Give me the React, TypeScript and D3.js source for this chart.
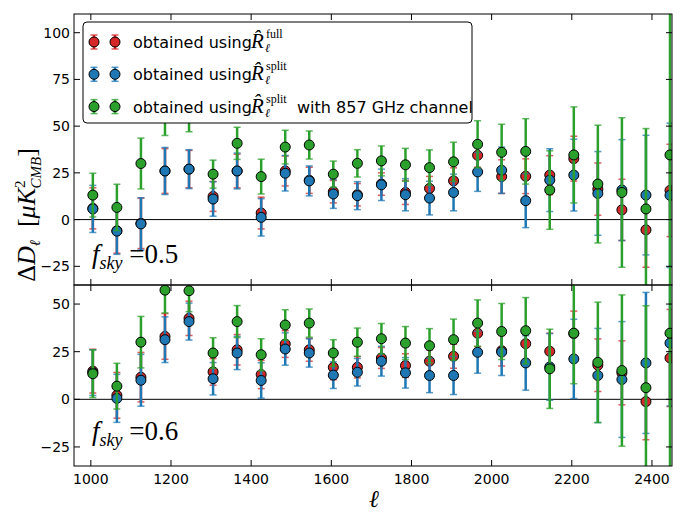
import * as d3 from "d3";

const W = 683;
const H = 513;
const LEFT = 74;
const RIGHT = 672;

const ELL = [
  1005, 1065, 1125, 1185, 1245, 1305, 1365, 1425, 1485, 1545, 1605, 1665, 1725,
  1785, 1845, 1905, 1965, 2025, 2085, 2145, 2205, 2265, 2325, 2385, 2445,
];

// f_sky = 0.5
const TOP_FULL = [6, -6, -2, 26, 27, 12.4, 26, 3.5, 26, 21, 14.9, 13.3, 19, 14.5, 16.7, 20.7, 34.4, 23, 23.2, 23.8, 32.6, 16.3, 5.2, -5.5, 15.6];
const TOP_FULL_ERR = [11, 12, 13.5, 12, 10, 8, 9, 8.5, 8, 7, 6, 6, 6, 6.4, 6.4, 7, 6.4, 9, 9.3, 10.4, 12, 14, 16.4, 20, 24.7];
const TOP_SPLIT = [5.7, -6.2, -2.3, 26, 27, 11, 26, 1.2, 24.8, 20.7, 13.7, 12.8, 18.6, 13.3, 11.5, 14.5, 25.5, 26.4, 10.1, 21.1, 23.8, 14, 15.8, 13.1, 13];
const TOP_SPLIT_ERR = [12.6, 12.4, 14, 12.6, 10.4, 9.2, 9.6, 10, 9.5, 8, 7.7, 7.5, 8.4, 8.6, 9, 9.8, 10.4, 12.4, 14.4, 16.8, 19.2, 22.4, 27, 32, 38.6];
const TOP_857 = [13.1, 6.5, 30, 58, 58, 24.3, 40.8, 23, 38.8, 39.9, 24.3, 30.1, 31.4, 29.3, 27.8, 30.9, 40.3, 36, 36.5, 15.8, 34.6, 19, 14.5, 5.7, 34.6];
const TOP_857_ERR = [11.7, 12.4, 13.6, 13, 11, 7.5, 8.6, 9.3, 9, 7.5, 7, 7.3, 8, 8.8, 9.5, 10.5, 12.6, 15, 17.5, 21, 25.7, 31.5, 40, 43, 90];

// f_sky = 0.6
const BOT_FULL = [14.8, 2.1, 11.6, 33, 42.5, 14.4, 26, 13, 29, 26, 16.8, 16.8, 21.7, 17.7, 20, 22.6, 34.7, 25.5, 29.2, 25.2, 34.5, 17.9, 13.9, -1.2, 21.7];
const BOT_FULL_ERR = [11.5, 12, 13, 12, 9, 7, 8, 7.4, 7, 6, 6.5, 5.6, 5.5, 6.2, 6, 6.3, 7, 8, 8.3, 9.5, 11.8, 13.8, 16.8, 20, 25.5];
const BOT_SPLIT = [14, 0.5, 10, 31.3, 40.8, 10.8, 24.3, 9.9, 26.4, 24.3, 12.7, 14.2, 20, 13.9, 12.5, 12.5, 24.7, 24.8, 19.1, 17, 21.2, 12.5, 10.4, 19.1, 29.5];
const BOT_SPLIT_ERR = [12, 12.6, 13.6, 12, 9.7, 8.5, 8.7, 9.3, 8.5, 7.4, 7, 7.2, 7.8, 8, 9, 10, 11, 12.3, 14.3, 17.5, 20.8, 24.7, 30.4, 37, 33];
const BOT_857 = [13.4, 6.9, 30, 57.3, 57, 24.3, 40.8, 23.4, 39, 40, 24.3, 30, 31.8, 29.5, 28.1, 31.3, 40, 35.6, 36, 16, 34.7, 19.4, 15.1, 6.1, 34.7];
const BOT_857_ERR = [12.5, 12, 13.5, 12, 11, 8, 8.4, 8.4, 8, 7.4, 7, 7.4, 8, 8.7, 9, 10.8, 12.2, 14.7, 17.4, 20.8, 26.5, 31.6, 39.7, 43, 75];

const X_TICKS = [1000, 1200, 1400, 1600, 1800, 2000, 2200, 2400];
const TOP_Y_TICKS = [-25, 0, 25, 50, 75, 100];
const BOT_Y_TICKS = [-25, 0, 25, 50];

const RED = "#d62728";
const BLUE = "#1f77b4";
const GREEN = "#2ca02c";

const SANS = "DejaVu Sans, sans-serif";
const SERIF = "Liberation Serif, serif";

const x = d3.scaleLinear().domain([958, 2450]).range([LEFT, RIGHT]);
const fmt = d3.format("d");

type Series = { vals: number[]; errs: number[]; color: string };

const ErrPoint = ({ cx, cy, y0, y1, color }) => (
  <g>
    <line x1={cx} x2={cx} y1={y0} y2={y1} stroke={color} strokeWidth={2.5} />
    <line x1={cx - 3.5} x2={cx + 3.5} y1={y0} y2={y0} stroke={color} strokeWidth={1.5} opacity={0.75} />
    <line x1={cx - 3.5} x2={cx + 3.5} y1={y1} y2={y1} stroke={color} strokeWidth={1.5} opacity={0.75} />
    <circle cx={cx} cy={cy} r={5} fill={color} stroke="#000" strokeWidth={1} />
  </g>
);

const Panel = ({ id, top, bottom, domain, ticks, series, fsky, showX }) => {
  const y = d3.scaleLinear().domain(domain).range([bottom, top]);
  const tl = 6;
  return (
    <g>
      <defs>
        <clipPath id={id}>
          <rect x={LEFT} y={top} width={RIGHT - LEFT} height={bottom - top} />
        </clipPath>
      </defs>
      <g clipPath={`url(#${id})`}>
        <line x1={LEFT} x2={RIGHT} y1={y(0)} y2={y(0)} stroke="#000" strokeWidth={1} />
        {series.map((s: Series, si: number) => (
          <g key={si}>
            {ELL.map((l, i) => (
              <ErrPoint
                key={i}
                cx={x(l)}
                cy={y(s.vals[i])}
                y0={y(s.vals[i] - s.errs[i])}
                y1={y(s.vals[i] + s.errs[i])}
                color={s.color}
              />
            ))}
          </g>
        ))}
      </g>
      <rect x={LEFT} y={top} width={RIGHT - LEFT} height={bottom - top} fill="none" stroke="#000" strokeWidth={1} />
      {ticks.map((t) => (
        <g key={t}>
          <line x1={LEFT} x2={LEFT + tl} y1={y(t)} y2={y(t)} stroke="#000" />
          <line x1={RIGHT - tl} x2={RIGHT} y1={y(t)} y2={y(t)} stroke="#000" />
          <text x={LEFT - 4} y={y(t)} dy="0.36em" textAnchor="end" fontFamily={SANS} fontSize={14}>
            {fmt(t)}
          </text>
        </g>
      ))}
      {X_TICKS.map((t) => (
        <g key={t}>
          <line x1={x(t)} x2={x(t)} y1={top} y2={top + tl} stroke="#000" />
          <line x1={x(t)} x2={x(t)} y1={bottom} y2={bottom - tl} stroke="#000" />
          {showX && (
            <text x={x(t)} y={bottom + 18} textAnchor="middle" fontFamily={SANS} fontSize={14}>
              {t}
            </text>
          )}
        </g>
      ))}
      <text x={LEFT + 18} y={bottom - (showX ? 26 : 22)} fontFamily={SERIF} fontSize={27}>
        <tspan fontStyle="italic">f</tspan>
        <tspan fontStyle="italic" fontSize={18} dy={6}>sky</tspan>
        <tspan dy={-6}>{` =${fsky}`}</tspan>
      </text>
    </g>
  );
};

const LEGEND = [
  { color: RED, sup: "full", extra: "" },
  { color: BLUE, sup: "split", extra: "" },
  { color: GREEN, sup: "split", extra: " with 857 GHz channel" },
];

const Legend = () => {
  const x0 = 83;
  const y0 = 22;
  const rowH = 32.3;
  return (
    <g>
      <rect x={x0} y={y0} width={389} height={101} rx={4} fill="#fff" stroke="#000" strokeWidth={1} />
      {LEGEND.map((d, i) => {
        const cy = y0 + 20 + i * rowH;
        return (
          <g key={i}>
            {[94, 115].map((cx) => (
              <ErrPoint key={cx} cx={cx} cy={cy} y0={cy + 7} y1={cy - 7} color={d.color} />
            ))}
            <text x={133} y={cy + 6} fontFamily={SANS} fontSize={16}>
              obtained using
            </text>
            <text x={251} y={cy + 6} fontFamily={SERIF} fontSize={21} fontStyle="italic">
              R̂
            </text>
            <text x={266} y={cy - 4} fontFamily={SERIF} fontSize={12}>
              {d.sup}
            </text>
            <text x={265} y={cy + 10} fontFamily={SERIF} fontSize={12} fontStyle="italic">
              ℓ
            </text>
            {d.extra && (
              <text x={297} y={cy + 6} fontFamily={SANS} fontSize={16}>
                {d.extra}
              </text>
            )}
          </g>
        );
      })}
    </g>
  );
};

export default function App() {
  const topSeries: Series[] = [
    { vals: TOP_FULL, errs: TOP_FULL_ERR, color: RED },
    { vals: TOP_SPLIT, errs: TOP_SPLIT_ERR, color: BLUE },
    { vals: TOP_857, errs: TOP_857_ERR, color: GREEN },
  ];
  const botSeries: Series[] = [
    { vals: BOT_FULL, errs: BOT_FULL_ERR, color: RED },
    { vals: BOT_SPLIT, errs: BOT_SPLIT_ERR, color: BLUE },
    { vals: BOT_857, errs: BOT_857_ERR, color: GREEN },
  ];
  return (
    <svg width={W} height={H} style={{ position: "absolute", left: 0, top: 0, background: "#fff" }}>
      <Panel id="clipTop" top={14} bottom={285} domain={[-35, 110]} ticks={TOP_Y_TICKS} series={topSeries} fsky="0.5" showX={false} />
      <Panel id="clipBot" top={285} bottom={466} domain={[-35, 60]} ticks={BOT_Y_TICKS} series={botSeries} fsky="0.6" showX={true} />
      <Legend />
      <text transform="translate(35,215) rotate(-90)" textAnchor="middle" fontFamily={SERIF} fontSize={26}>
        <tspan>Δ</tspan>
        <tspan fontStyle="italic">D</tspan>
        <tspan fontStyle="italic" fontSize={15} dy={5}>ℓ</tspan>
        <tspan dy={-5}>{"\u00a0\u00a0["}</tspan>
        <tspan fontStyle="italic">μK</tspan>
        <tspan fontSize={15} dy={-10}>2</tspan>
        <tspan fontStyle="italic" fontSize={15} dx={-8} dy={16}>CMB</tspan>
        <tspan dy={-6}>]</tspan>
      </text>
      <text x={374} y={507} textAnchor="middle" fontFamily={SERIF} fontSize={24} fontStyle="italic">
        ℓ
      </text>
    </svg>
  );
}
